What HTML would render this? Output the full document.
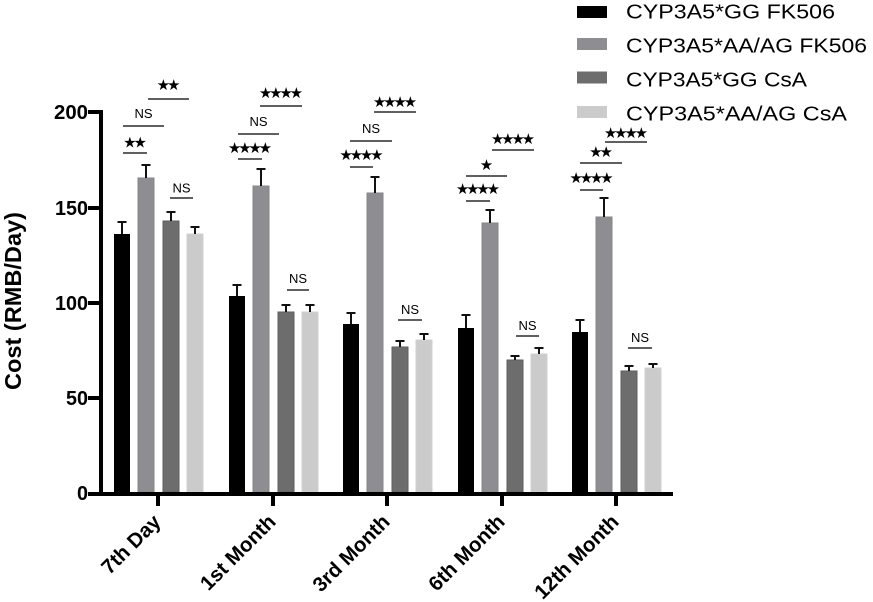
<!DOCTYPE html>
<html>
<head>
<meta charset="utf-8">
<style>
  html, body { margin: 0; padding: 0; background: #fff; }
  svg { display: block; }
  .tick { font-family: "Liberation Sans", Arial, sans-serif; font-weight: bold; font-size: 20px; }
  .xl { font-family: "Liberation Sans", Arial, sans-serif; font-weight: bold; font-size: 20.5px; }
  .ttl { font-family: "Liberation Sans", Arial, sans-serif; font-weight: bold; font-size: 23px; }
  .leg { font-family: "Liberation Sans", Arial, sans-serif; font-size: 20px; }
  .ns { font-family: "Liberation Sans", Arial, sans-serif; font-size: 13px; }
  .st { font-family: "DejaVu Sans", sans-serif; font-size: 15px; }
</style>
</head>
<body>
<svg width="873" height="602" viewBox="0 0 873 602" xmlns="http://www.w3.org/2000/svg">
  <rect width="873" height="602" fill="#fff"/>

  <!-- Legend -->
  <rect x="577" y="6" width="30" height="12" fill="#000"/>
  <rect x="577" y="38" width="30" height="12" fill="#8e8e92"/>
  <rect x="577" y="71.5" width="30" height="12" fill="#6d6d6d"/>
  <rect x="577" y="106" width="30" height="12" fill="#cbcbcb"/>
  <text class="leg" x="626" y="18.5" textLength="209" lengthAdjust="spacingAndGlyphs">CYP3A5*GG FK506</text>
  <text class="leg" x="626" y="52.5" textLength="241" lengthAdjust="spacingAndGlyphs">CYP3A5*AA/AG FK506</text>
  <text class="leg" x="626" y="86.5" textLength="181" lengthAdjust="spacingAndGlyphs">CYP3A5*GG CsA</text>
  <text class="leg" x="626" y="120.5" textLength="221" lengthAdjust="spacingAndGlyphs">CYP3A5*AA/AG CsA</text>

  <!-- Y title -->
  <text class="ttl" transform="translate(21,301) rotate(-90)" text-anchor="middle" textLength="178" lengthAdjust="spacingAndGlyphs">Cost (RMB/Day)</text>

  <!-- Y tick labels -->
  <text class="tick" x="88" y="119" text-anchor="end" textLength="34" lengthAdjust="spacingAndGlyphs">200</text>
  <text class="tick" x="88" y="215" text-anchor="end" textLength="33" lengthAdjust="spacingAndGlyphs">150</text>
  <text class="tick" x="88" y="310" text-anchor="end" textLength="33" lengthAdjust="spacingAndGlyphs">100</text>
  <text class="tick" x="88" y="405" text-anchor="end" textLength="22" lengthAdjust="spacingAndGlyphs">50</text>
  <text class="tick" x="88" y="500" text-anchor="end" textLength="11" lengthAdjust="spacingAndGlyphs">0</text>

  <!-- Bars -->
  <g id="bars">
    <rect x="114" y="234" width="16" height="258" fill="#000"/>
    <rect x="138" y="178" width="16" height="314" fill="#8e8e92" stroke="#858589" stroke-width="1"/>
    <rect x="163" y="221" width="16" height="271" fill="#6d6d6d" stroke="#5e5e5e" stroke-width="1"/>
    <rect x="187" y="234" width="16" height="258" fill="#cbcbcb" stroke="#d2d2d2" stroke-width="1"/>

    <rect x="229" y="296" width="16" height="196" fill="#000"/>
    <rect x="253" y="186" width="16" height="306" fill="#8e8e92" stroke="#858589" stroke-width="1"/>
    <rect x="278" y="312" width="16" height="180" fill="#6d6d6d" stroke="#5e5e5e" stroke-width="1"/>
    <rect x="302" y="312" width="16" height="180" fill="#cbcbcb" stroke="#d2d2d2" stroke-width="1"/>

    <rect x="343" y="324" width="16" height="168" fill="#000"/>
    <rect x="367" y="193" width="16" height="299" fill="#8e8e92" stroke="#858589" stroke-width="1"/>
    <rect x="392" y="347" width="16" height="145" fill="#6d6d6d" stroke="#5e5e5e" stroke-width="1"/>
    <rect x="416" y="340" width="16" height="152" fill="#cbcbcb" stroke="#d2d2d2" stroke-width="1"/>

    <rect x="458" y="328" width="16" height="164" fill="#000"/>
    <rect x="482" y="223" width="16" height="269" fill="#8e8e92" stroke="#858589" stroke-width="1"/>
    <rect x="507" y="360" width="16" height="132" fill="#6d6d6d" stroke="#5e5e5e" stroke-width="1"/>
    <rect x="531" y="354" width="16" height="138" fill="#cbcbcb" stroke="#d2d2d2" stroke-width="1"/>

    <rect x="572" y="332" width="16" height="160" fill="#000"/>
    <rect x="596" y="217" width="16" height="275" fill="#8e8e92" stroke="#858589" stroke-width="1"/>
    <rect x="621" y="371" width="16" height="121" fill="#6d6d6d" stroke="#5e5e5e" stroke-width="1"/>
    <rect x="645" y="368" width="16" height="124" fill="#cbcbcb" stroke="#d2d2d2" stroke-width="1"/>
  </g>

  <!-- Error bars -->
  <g stroke="#111" stroke-width="2" fill="none">
    <path d="M122 234V222M117.5 222H126.5"/>
    <path d="M146 178V165M141.5 165H150.5"/>
    <path d="M171 221V212M166.5 212H175.5"/>
    <path d="M195 234V227M190.5 227H199.5"/>
    <path d="M237 296V285M232.5 285H241.5"/>
    <path d="M261 186V169M256.5 169H265.5"/>
    <path d="M286 312V305M281.5 305H290.5"/>
    <path d="M310 312V305M305.5 305H314.5"/>
    <path d="M351 324V313M346.5 313H355.5"/>
    <path d="M375 193V177M370.5 177H379.5"/>
    <path d="M400 347V341M395.5 341H404.5"/>
    <path d="M424 340V334M419.5 334H428.5"/>
    <path d="M466 328V315M461.5 315H470.5"/>
    <path d="M490 223V210M485.5 210H494.5"/>
    <path d="M515 360V356M510.5 356H519.5"/>
    <path d="M539 354V348M534.5 348H543.5"/>
    <path d="M580 332V320M575.5 320H584.5"/>
    <path d="M604 217V198M599.5 198H608.5"/>
    <path d="M629 371V366M624.5 366H633.5"/>
    <path d="M653 368V364M648.5 364H657.5"/>
  </g>

  <!-- Axes -->
  <g stroke="#000" fill="none">
    <path d="M101 110V496" stroke-width="4"/>
    <path d="M88 494H673" stroke-width="4"/>
    <path d="M88 112H101M88 208H101M88 303H101M88 398H101" stroke-width="4"/>
    <path d="M158 494V506M273 494V506M387 494V506M502 494V506M616 494V506" stroke-width="4"/>
  </g>

  <!-- X labels -->
  <text class="xl" transform="translate(162,523) rotate(-45)" text-anchor="end">7th Day</text>
  <text class="xl" transform="translate(277,523) rotate(-45)" text-anchor="end">1st Month</text>
  <text class="xl" transform="translate(391,523) rotate(-45)" text-anchor="end">3rd Month</text>
  <text class="xl" transform="translate(506,523) rotate(-45)" text-anchor="end">6th Month</text>
  <text class="xl" transform="translate(620,523) rotate(-45)" text-anchor="end">12th Month</text>

  <!-- Significance lines -->
  <g stroke="#000" stroke-width="1.3">
    <path d="M148 99H189M123 126H164M123 153H147M170 198H193"/>
    <path d="M260 106H302M238 134H279M238 159H262M287 290H309"/>
    <path d="M374 112H416M350 141H392M350 167H373M398 320H422"/>
    <path d="M492 150H534M466 176H507M466 201H490M516 336H539"/>
    <path d="M605 142H647M580 163H622M580 190H603M628 348H652"/>
  </g>

  <!-- Significance labels -->
  <g text-anchor="middle">
    <!-- 7th Day -->
    <text class="st" x="163.3 173.7" y="90">★★</text>
    <text class="ns" x="143.5" y="118">NS</text>
    <text class="st" x="129.8 140.2" y="147.5">★★</text>
    <text class="ns" x="181.5" y="192.5">NS</text>
    <!-- 1st Month -->
    <text class="st" x="265.6 275.9 286.1 296.4" y="98">★★★★</text>
    <text class="ns" x="258.5" y="126">NS</text>
    <text class="st" x="234.6 244.9 255.1 265.4" y="153">★★★★</text>
    <text class="ns" x="298" y="283">NS</text>
    <!-- 3rd Month -->
    <text class="st" x="379.6 389.9 400.1 410.4" y="107">★★★★</text>
    <text class="ns" x="371" y="133">NS</text>
    <text class="st" x="346.1 356.4 366.6 376.9" y="160">★★★★</text>
    <text class="ns" x="410" y="314">NS</text>
    <!-- 6th Month -->
    <text class="st" x="497.6 507.9 518.1 528.4" y="144">★★★★</text>
    <text class="st" x="486.5" y="170">★</text>
    <text class="st" x="462.6 472.9 483.1 493.4" y="194">★★★★</text>
    <text class="ns" x="527.5" y="330">NS</text>
    <!-- 12th Month -->
    <text class="st" x="610.6 620.9 631.1 641.4" y="138">★★★★</text>
    <text class="st" x="595.8 606.2" y="157">★★</text>
    <text class="st" x="576.1 586.4 596.6 606.9" y="183">★★★★</text>
    <text class="ns" x="640" y="342">NS</text>
  </g>
</svg>
</body>
</html>
